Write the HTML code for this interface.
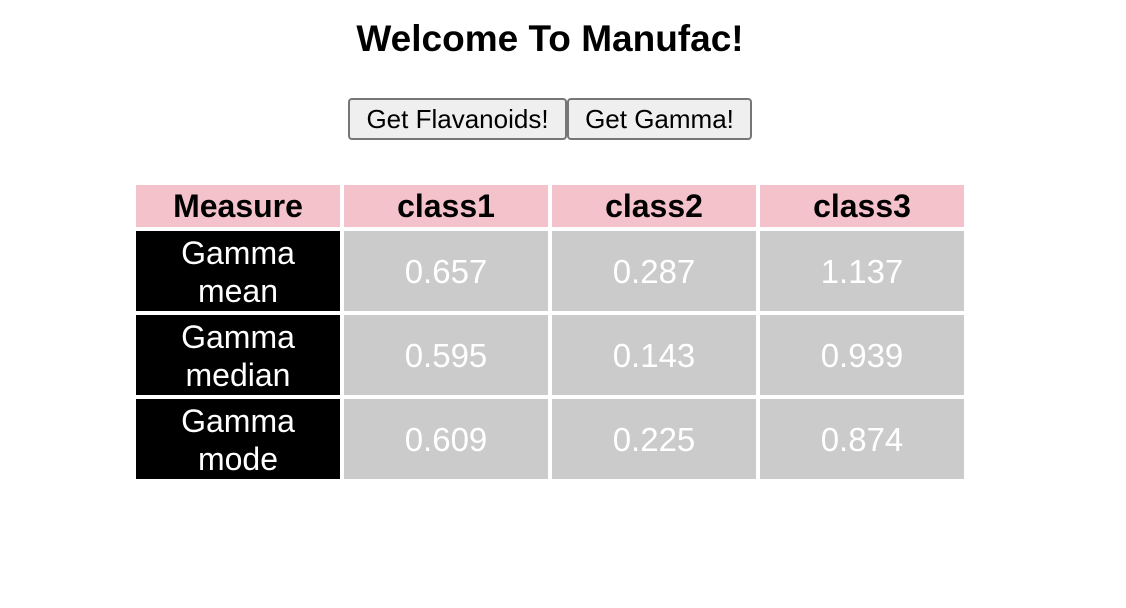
<!DOCTYPE html>
<html><head><meta charset="utf-8"><style>
body{margin:0;width:1126px;height:608px;background:#fff;font-family:"Liberation Sans",Arial,sans-serif;position:relative;overflow:hidden}
h1{position:absolute;left:0;width:1100px;top:18px;margin:0;text-align:center;font-size:37px;font-weight:bold;color:#000}
.btn{position:absolute;top:98px;height:42px;box-sizing:border-box;border:2px solid #767676;border-radius:4px;background:#efefef;font-size:26px;font-family:inherit;color:#000;padding:0}
table{position:absolute;left:132px;top:181px;border-collapse:separate;border-spacing:4px 4px}
td,th{padding:0;text-align:center;width:204px}
th{background:#f4c2cb;height:41px;padding-top:1px;font-size:32px;font-weight:bold;color:#000}
td{height:78px;padding-top:2px;font-size:32px;line-height:38px}
td.v{font-size:33px}
td.m{background:#000;color:#fff}
td.v{background:#cbcbcb;color:#fff}
</style></head><body>
<h1>Welcome To Manufac!</h1>
<button class="btn" style="left:348px;width:219px">Get Flavanoids!</button>
<button class="btn" style="left:567px;width:185px">Get Gamma!</button>
<table>
<tr><th>Measure</th><th>class1</th><th>class2</th><th>class3</th></tr>
<tr><td class="m">Gamma<br>mean</td><td class="v">0.657</td><td class="v">0.287</td><td class="v">1.137</td></tr>
<tr><td class="m">Gamma<br>median</td><td class="v">0.595</td><td class="v">0.143</td><td class="v">0.939</td></tr>
<tr><td class="m">Gamma<br>mode</td><td class="v">0.609</td><td class="v">0.225</td><td class="v">0.874</td></tr>
</table>
</body></html>
